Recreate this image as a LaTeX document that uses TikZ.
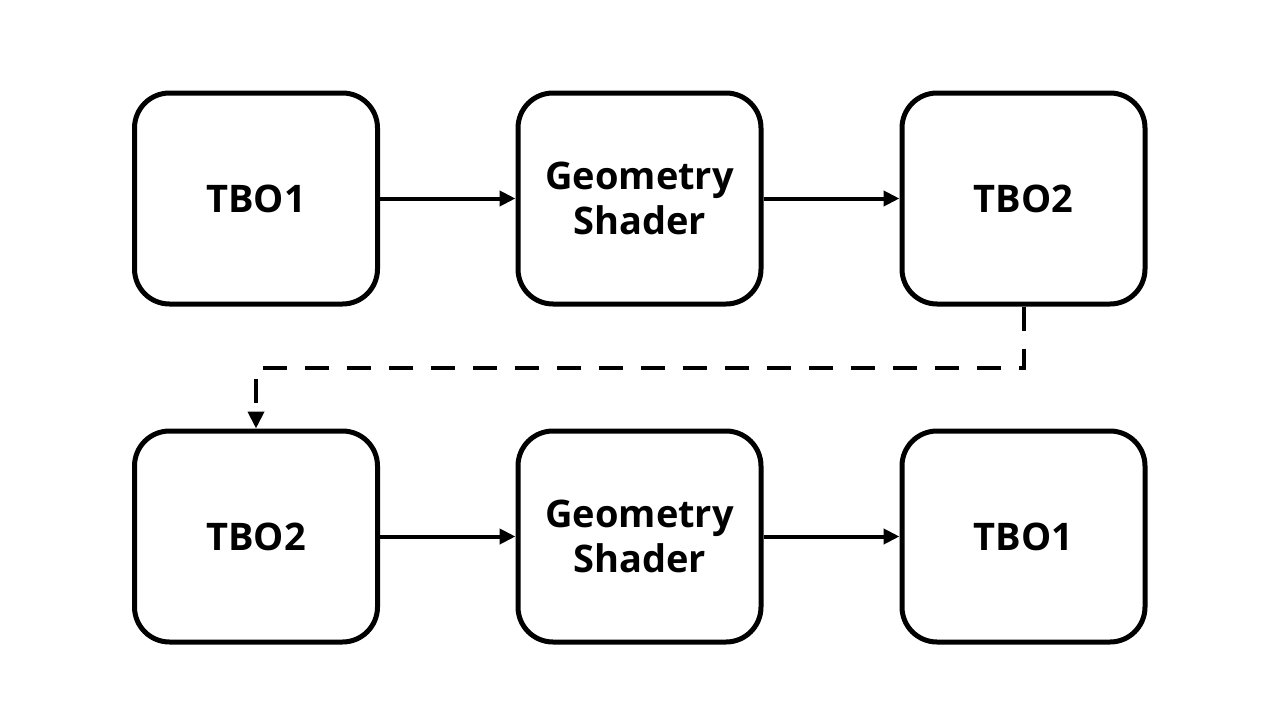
\documentclass[tikz,border=0pt]{standalone}
\usepackage{fontspec}
\setmainfont{Open Sans}
\usetikzlibrary{arrows.meta}
\begin{document}
\begin{tikzpicture}[x=1pt,y=-1pt,
  box/.style={draw=black, line width=5pt, rounded corners=35pt, minimum width=243pt, minimum height=211pt, inner sep=0pt, align=center, font=\bfseries\fontsize{38}{45}\selectfont},
  flow/.style={line width=4pt, -{Triangle[length=16pt,width=15pt]}},
  dflow/.style={line width=4pt, dash pattern=on 24pt off 18pt, -{Triangle[length=17pt,width=16pt]}}]
\useasboundingbox[fill=white] (0,0) rectangle (1280,720);
\node[box] (a1) at (256,198.5) {TBO1};
\node[box] (a2) at (639.5,198.5) {Geometry\\Shader};
\node[box] (a3) at (1023.5,198.5) {TBO2};
\node[box] (b1) at (256,536.5) {TBO2};
\node[box] (b2) at (639.5,536.5) {Geometry\\Shader};
\node[box] (b3) at (1023.5,536.5) {TBO1};
\draw[flow] (a1) -- (a2);
\draw[flow] (a2) -- (a3);
\draw[flow] (b1) -- (b2);
\draw[flow] (b2) -- (b3);
\coordinate (m) at (1023.5,368);
\draw[dflow] (a3.south) -- (m) -| (b1.north);
\end{tikzpicture}
\end{document}
